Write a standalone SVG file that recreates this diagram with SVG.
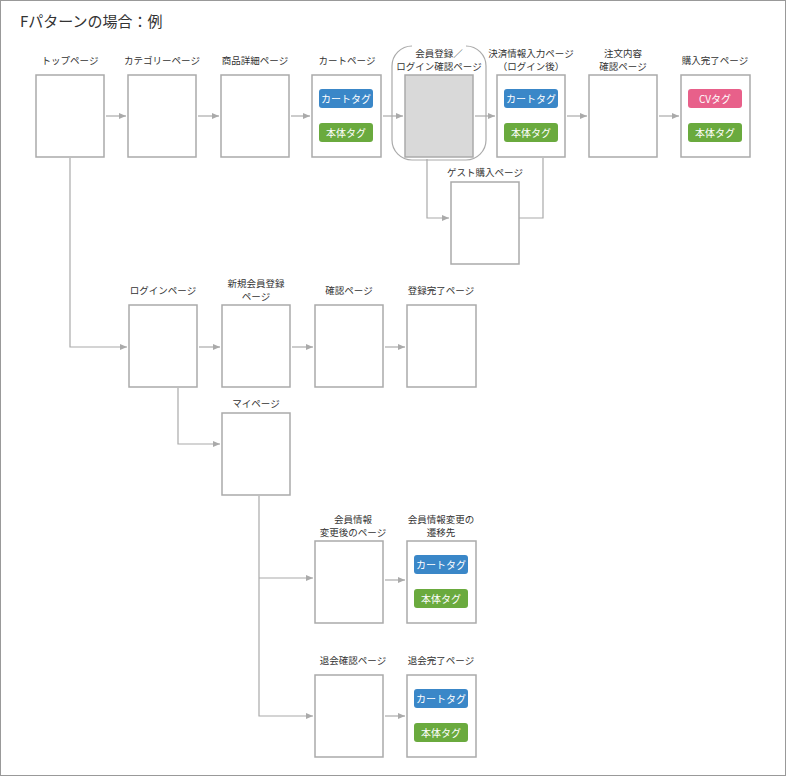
<svg xmlns="http://www.w3.org/2000/svg" width="786" height="776" viewBox="0 0 786 776">
<style>
text{font-family:"Noto Sans CJK JP","Noto Sans",sans-serif;font-size:9.5px;fill:#333;text-anchor:middle}
.b{fill:#fff;stroke:#aaa;stroke-width:1.5}
.c{fill:none;stroke:#aaa;stroke-width:1.2}
.t{fill:#fff;font-size:10px}
</style>
<defs><marker id="a" viewBox="0 0 6 6" refX="6" refY="3" markerWidth="6" markerHeight="6" orient="auto"><path d="M0,0.5L6,3L0,5.5z" fill="#aaa"/></marker>
<g id="cart"><rect width="54" height="19" rx="3" fill="#3a87c8"/><text x="27" y="13.5" class="t">カートタグ</text></g>
<g id="body"><rect width="54" height="19" rx="3" fill="#6aaa3e"/><text x="27" y="13.5" class="t">本体タグ</text></g></defs>
<rect x="0.5" y="0.5" width="785" height="775" fill="#fff" stroke="#999"/>
<text x="20" y="27" style="font-size:15px;text-anchor:start">Fパターンの場合：例</text>
<g id="connectors" class="c" marker-end="url(#a)">
<path d="M106,116H126"/><path d="M198,116H219"/><path d="M291,116H310"/><path d="M383,116H403"/><path d="M475,116H495"/><path d="M567,116H587"/><path d="M659,116H679"/>
<path d="M70,158V347H127"/><path d="M427,159V218H449"/><path d="M519,218H543V158" marker-end="none"/>
<path d="M199,347H220"/><path d="M292,347H313"/><path d="M385,347H405"/>
<path d="M178,388V444H220"/><path d="M259,496V716H313"/><path d="M259,578H313"/>
<path d="M385,580H405"/><path d="M385,716H405"/>
</g>
<g id="top"><text x="70" y="64">トップページ</text><rect class="b" x="36" y="75" width="68" height="82"/></g>
<g id="cat"><text x="162" y="64">カテゴリーページ</text><rect class="b" x="128" y="75" width="68" height="82"/></g>
<g id="detail"><text x="255" y="64">商品詳細ページ</text><rect class="b" x="221" y="75" width="68" height="82"/></g>
<g id="cartp"><text x="347" y="64">カートページ</text><rect class="b" x="312" y="75" width="69" height="82"/><use href="#cart" x="319" y="89"/><use href="#body" x="319" y="123"/></g>
<g id="member"><rect x="392" y="46" width="94" height="114" rx="20" fill="none" stroke="#aaa" stroke-width="1.2"/><rect x="412" y="44" width="54" height="5" fill="#fff"/><text x="439" y="57">会員登録／</text><text x="439" y="70">ログイン確認ページ</text><rect x="405" y="75" width="68" height="82" fill="#d9d9d9" stroke="#aaa" stroke-width="1.5"/></g>
<g id="pay"><text x="531" y="57">決済情報入力ページ</text><text x="531" y="70">（ログイン後）</text><rect class="b" x="497" y="75" width="68" height="82"/><use href="#cart" x="504" y="89"/><use href="#body" x="504" y="123"/></g>
<g id="confirm"><text x="623" y="57">注文内容</text><text x="623" y="70">確認ページ</text><rect class="b" x="589" y="75" width="68" height="82"/></g>
<g id="done"><text x="715" y="64">購入完了ページ</text><rect class="b" x="681" y="75" width="69" height="82"/><rect x="688" y="89" width="54" height="19" rx="3" fill="#e8608a"/><text x="715" y="102.5" class="t">CVタグ</text><use href="#body" x="688" y="123"/></g>
<g id="guest"><text x="485" y="176">ゲスト購入ページ</text><rect class="b" x="451" y="182" width="68" height="82"/></g>
<g id="login"><text x="163" y="294">ログインページ</text><rect class="b" x="129" y="305" width="68" height="82"/></g>
<g id="reg"><text x="256" y="287">新規会員登録</text><text x="256" y="300">ページ</text><rect class="b" x="222" y="305" width="68" height="82"/></g>
<g id="regconf"><text x="349" y="294">確認ページ</text><rect class="b" x="315" y="305" width="68" height="82"/></g>
<g id="regdone"><text x="441" y="294">登録完了ページ</text><rect class="b" x="407" y="305" width="69" height="82"/></g>
<g id="my"><text x="256" y="407">マイページ</text><rect class="b" x="222" y="413" width="68" height="82"/></g>
<g id="chg"><text x="353" y="523">会員情報</text><text x="353" y="536">変更後のページ</text><rect class="b" x="315" y="541" width="68" height="82"/></g>
<g id="chgto"><text x="441" y="523">会員情報変更の</text><text x="441" y="536">遷移先</text><rect class="b" x="407" y="541" width="69" height="82"/><use href="#cart" x="414" y="555"/><use href="#body" x="414" y="589"/></g>
<g id="quit"><text x="353" y="664">退会確認ページ</text><rect class="b" x="315" y="675" width="68" height="82"/></g>
<g id="quitdone"><text x="441" y="664">退会完了ページ</text><rect class="b" x="407" y="675" width="69" height="82"/><use href="#cart" x="414" y="689"/><use href="#body" x="414" y="723"/></g>
</svg>
